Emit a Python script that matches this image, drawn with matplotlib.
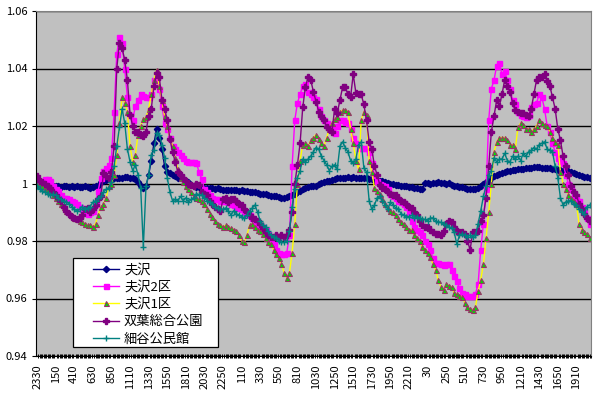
import numpy as np
import matplotlib
matplotlib.use('Agg')
import matplotlib.pyplot as plt
from matplotlib.patches import Rectangle
from matplotlib.ticker import FixedLocator, MultipleLocator

plt.rcParams['font.family'] = ['Noto Sans CJK JP', 'DejaVu Sans']

# 20-minute readings from 23:30, ratio to reference level
fusawa = [1.002, 1.0005, 0.9995, 0.999, 0.9992, 0.9988, 0.999, 0.9992, 0.999, 0.9988,
          0.999, 0.9992, 0.9988, 0.999, 0.9987, 0.999, 0.9988, 0.9987, 0.999, 0.9988,
          0.9986, 0.9988, 0.999, 0.999, 1.0005, 1.001, 1.0013, 1.0015, 1.0017, 1.0018,
          1.0018, 1.002, 1.002, 1.0021, 1.0022, 1.002, 1.002, 1.0015, 1.0005, 0.999,
          0.9985, 0.999, 1.003, 1.008, 1.014, 1.019, 1.016, 1.012, 1.006, 1.004,
          1.0035, 1.003, 1.0025, 1.002, 1.002, 1.0015, 1.001, 1.0005, 0.9995, 0.999,
          0.9988, 0.9987, 0.9988, 0.9986, 0.9985, 0.9986, 0.9984, 0.9982, 0.9983, 0.998,
          0.9978, 0.9979, 0.9977, 0.9978, 0.9976, 0.9977, 0.9975, 0.9976, 0.9974, 0.9973,
          0.9972, 0.997, 0.9969, 0.9967, 0.9965, 0.9963, 0.9962, 0.996, 0.9958, 0.9956,
          0.9955, 0.9953, 0.995, 0.9951, 0.9953, 0.9955, 0.996, 0.9965, 0.997, 0.9975,
          0.998, 0.9985, 0.9988, 0.999, 0.9992, 0.9993, 0.9998, 1.0002, 1.0005, 1.0008,
          1.001, 1.0013, 1.0015, 1.0018, 1.0019, 1.002, 1.002, 1.0021, 1.002, 1.0021,
          1.002, 1.002, 1.0019, 1.0018, 1.0018, 1.0016, 1.0015, 1.0013, 1.0012, 1.001,
          1.0008, 1.0005, 1.0003, 1.0, 0.9998, 0.9996, 0.9994, 0.9993, 0.9992, 0.999,
          0.9989, 0.9988, 0.9986, 0.9985, 0.9982, 0.998, 1.0002, 1.0003, 1.0, 1.0003,
          1.0002, 1.0004, 1.0001, 1.0003, 1.0, 1.0002, 0.9995, 0.9993, 0.999, 0.9988,
          0.9987, 0.9985, 0.9982, 0.998, 0.998, 0.998, 0.9986, 0.9992, 1.0, 1.0005,
          1.001, 1.0018, 1.0025, 1.0029, 1.0032, 1.0036, 1.004, 1.0042, 1.0044, 1.0046,
          1.0047, 1.0049, 1.005, 1.0052, 1.0053, 1.0054, 1.0055, 1.0056, 1.0056, 1.0056,
          1.0055, 1.0055, 1.0055, 1.0053, 1.0052, 1.005, 1.0048, 1.0046, 1.0045, 1.0043,
          1.0042, 1.004, 1.0037, 1.0033, 1.003, 1.0027, 1.0024, 1.0021, 1.0018]

fusawa2 = [1.0005, 1.0005, 1.001, 1.0015, 1.0015, 1.001, 0.999, 0.998, 0.9975, 0.996,
           0.995, 0.995, 0.9945, 0.994, 0.9935, 0.993, 0.992, 0.991, 0.99, 0.9895,
           0.99, 0.9905, 0.993, 0.9975, 1.002, 1.0045, 1.0055, 1.0065, 1.009, 1.025,
           1.045, 1.051, 1.049, 1.04, 1.03, 1.024, 1.022, 1.027, 1.029, 1.031,
           1.0305, 1.03, 1.03, 1.031, 1.036, 1.037, 1.033, 1.027, 1.021, 1.019,
           1.016, 1.013, 1.012, 1.011, 1.01, 1.009, 1.008, 1.0075, 1.0075, 1.0075,
           1.007, 1.004, 1.0015, 0.998, 0.997, 0.996, 0.995, 0.9945, 0.9945, 0.994,
           0.994, 0.994, 0.9935, 0.993, 0.9925, 0.992, 0.9915, 0.991, 0.99, 0.9895,
           0.989, 0.988, 0.987, 0.986, 0.9855, 0.985, 0.984, 0.9825, 0.981, 0.979,
           0.977, 0.976, 0.9755, 0.9755, 0.976, 0.982, 1.006, 1.022, 1.028, 1.031,
           1.034, 1.0345, 1.032, 1.031, 1.03, 1.0295, 1.026, 1.0235, 1.022, 1.021,
           1.02, 1.019, 1.0175, 1.02, 1.022, 1.022, 1.0215, 1.021, 1.019, 1.016,
           1.014, 1.0125, 1.0125, 1.0125, 1.0125, 1.011, 1.007, 1.003, 1.001, 1.0,
           0.9995, 0.999, 0.998, 0.9965, 0.9955, 0.995, 0.994, 0.9935, 0.993, 0.992,
           0.99, 0.987, 0.985, 0.984, 0.983, 0.982, 0.98, 0.979, 0.977, 0.974,
           0.9725, 0.9725, 0.972, 0.9715, 0.972, 0.972, 0.97, 0.968, 0.966, 0.9635,
           0.962, 0.9615, 0.961, 0.961, 0.961, 0.9615, 0.965, 0.977, 0.986, 0.998,
           1.022, 1.033, 1.036, 1.041, 1.042, 1.038, 1.039, 1.036, 1.033, 1.029,
           1.0275, 1.025, 1.024, 1.0235, 1.023, 1.024, 1.0265, 1.0275, 1.028, 1.031,
           1.03, 1.026, 1.02, 1.018, 1.014, 1.011, 1.009, 1.008, 1.007, 1.003,
           1.0, 0.998, 0.996, 0.995, 0.994, 0.992, 0.99, 0.988, 0.986]

fusawa1 = [1.0, 0.9995, 0.999, 0.998, 0.998, 0.997, 0.996, 0.995, 0.994, 0.993,
           0.992, 0.9905, 0.99, 0.989, 0.988, 0.9875, 0.987, 0.9865, 0.986, 0.9855,
           0.9855, 0.985, 0.986, 0.989, 0.992, 0.993, 0.995, 0.999, 1.0, 1.003,
           1.01, 1.021, 1.03, 1.028, 1.025, 1.013, 1.0075, 1.01, 1.017, 1.02,
           1.0225, 1.023, 1.026, 1.031, 1.036, 1.0395, 1.034, 1.029, 1.0235, 1.02,
           1.016, 1.013, 1.009, 1.005, 1.002, 1.0005, 0.999, 0.998, 0.997, 0.9955,
           0.995, 0.9945, 0.994, 0.993, 0.991, 0.9895, 0.9885, 0.987, 0.986, 0.9855,
           0.985, 0.9855, 0.985, 0.9845, 0.984, 0.9835, 0.982, 0.98, 0.9795, 0.982,
           0.9855, 0.986, 0.985, 0.984, 0.9835, 0.9825, 0.981, 0.9795, 0.979, 0.977,
           0.9755, 0.974, 0.972, 0.969, 0.967, 0.969, 0.976, 0.986, 1.0, 1.008,
           1.0135, 1.014, 1.013, 1.015, 1.016, 1.017, 1.0155, 1.014, 1.013, 1.016,
           1.019, 1.021, 1.0225, 1.023, 1.025, 1.0255, 1.0255, 1.025, 1.019, 1.014,
           1.008, 1.005, 1.022, 1.025, 1.024, 1.008, 1.004, 0.9985, 0.9975, 0.9965,
           0.9945, 0.993, 0.9915, 0.9905, 0.99, 0.989, 0.9875, 0.9865, 0.986, 0.985,
           0.984, 0.984, 0.982, 0.981, 0.98, 0.978, 0.977, 0.976, 0.9745, 0.972,
           0.97, 0.9665, 0.964, 0.963, 0.965, 0.9645, 0.964, 0.962, 0.9615, 0.961,
           0.9605, 0.9585, 0.957, 0.9565, 0.956, 0.957, 0.9625, 0.9665, 0.972, 0.981,
           0.99, 1.0, 1.011, 1.0145, 1.016, 1.016, 1.016, 1.015, 1.0135, 1.0135,
           1.012, 1.0195, 1.021, 1.0205, 1.019, 1.019, 1.018, 1.019, 1.02, 1.022,
           1.021, 1.0205, 1.02, 1.018, 1.016, 1.0145, 1.0135, 1.004, 1.0, 0.998,
           0.996, 0.995, 0.994, 0.993, 0.986, 0.984, 0.983, 0.9825, 0.981]

futaba = [1.0025, 1.001, 1.0005, 1.0, 0.999, 0.9985, 0.997, 0.996, 0.995, 0.994,
          0.992, 0.9905, 0.9895, 0.9885, 0.988, 0.9878, 0.988, 0.989, 0.991, 0.9915,
          0.99, 0.991, 0.9925, 0.9945, 0.9955, 1.0035, 1.0025, 1.002, 1.004, 1.013,
          1.04, 1.049, 1.047, 1.043, 1.036, 1.024, 1.02, 1.018, 1.018, 1.017,
          1.0165, 1.018, 1.0235, 1.026, 1.034, 1.0385, 1.037, 1.029, 1.026, 1.022,
          1.0155, 1.011, 1.0075, 1.004, 1.003, 1.002, 1.001, 1.0, 0.9995, 0.999,
          1.0, 0.9995, 0.997, 0.9965, 0.996, 0.994, 0.993, 0.992, 0.991, 0.9905,
          0.9945, 0.995, 0.9935, 0.9945, 0.9945, 0.994, 0.993, 0.9925, 0.991, 0.99,
          0.989, 0.988, 0.9875, 0.987, 0.986, 0.9845, 0.983, 0.982, 0.9815, 0.9815,
          0.982, 0.9815, 0.982, 0.9815, 0.982, 0.984, 0.99, 0.9998, 1.0065, 1.014,
          1.0265, 1.0335, 1.037, 1.036, 1.032, 1.0285, 1.025, 1.0235, 1.022, 1.0195,
          1.019, 1.018, 1.026, 1.0245, 1.029, 1.0335, 1.0335, 1.031, 1.03, 1.038,
          1.0315, 1.031, 1.031, 1.0275, 1.022, 1.0145, 1.012, 1.006, 1.003, 0.9995,
          0.9985, 0.998, 0.997, 0.9965, 0.996, 0.996, 0.995, 0.994, 0.9935, 0.993,
          0.992, 0.9915, 0.99, 0.989, 0.987, 0.9855, 0.985, 0.985, 0.984, 0.983,
          0.9825, 0.9825, 0.982, 0.9835, 0.986, 0.987, 0.9865, 0.985, 0.9835, 0.983,
          0.983, 0.9825, 0.98, 0.977, 0.983, 0.983, 0.9835, 0.987, 0.989, 0.995,
          1.006, 1.018, 1.0235, 1.029, 1.027, 1.031, 1.036, 1.034, 1.032, 1.028,
          1.0255, 1.025, 1.0245, 1.0245, 1.024, 1.0235, 1.026, 1.031, 1.036, 1.037,
          1.037, 1.038, 1.0355, 1.034, 1.03, 1.026, 1.019, 1.015, 1.0095, 1.006,
          1.003, 0.999, 0.997, 0.996, 0.993, 0.991, 0.9895, 0.988, 0.987]

hosoya = [0.999, 0.998, 0.9975, 0.997, 0.9965, 0.996, 0.9963, 0.996, 0.995, 0.9945,
          0.994, 0.9935, 0.993, 0.992, 0.991, 0.9905, 0.991, 0.992, 0.991, 0.9915,
          0.992, 0.9935, 0.994, 0.995, 0.9955, 0.997, 0.998, 0.9985, 1.0005, 1.006,
          1.013, 1.0195, 1.026, 1.021, 1.012, 1.0075, 1.0045, 1.0065, 1.003, 0.9985,
          0.978, 0.999, 1.003, 1.01, 1.0115, 1.0175, 1.017, 1.0135, 1.009, 1.002,
          0.997, 0.994, 0.9945, 0.994, 0.9955, 0.994, 0.995, 0.9935, 0.9945, 0.995,
          0.9965, 0.996, 0.996, 0.995, 0.994, 0.9935, 0.993, 0.992, 0.9915, 0.991,
          0.991, 0.9915, 0.9905, 0.989, 0.9905, 0.9895, 0.989, 0.9885, 0.988, 0.989,
          0.9905, 0.9915, 0.9925, 0.99, 0.987, 0.9855, 0.985, 0.9835, 0.982, 0.9815,
          0.981, 0.98, 0.9795, 0.9795, 0.98, 0.9835, 0.992, 0.998, 1.002, 1.0045,
          1.0085, 1.0075, 1.0085, 1.0095, 1.011, 1.0125, 1.012, 1.0095, 1.008, 1.0065,
          1.0045, 1.006, 1.0065, 1.005, 1.013, 1.0145, 1.0125, 1.011, 1.008, 1.007,
          1.0085, 1.0135, 1.0145, 1.0055, 1.004, 0.994, 0.991, 0.9925, 0.995, 0.9955,
          0.994, 0.9925, 0.991, 0.9935, 0.9925, 0.9915, 0.991, 0.9895, 0.989, 0.9885,
          0.9885, 0.989, 0.988, 0.9885, 0.988, 0.9875, 0.9875, 0.987, 0.988, 0.988,
          0.987, 0.9865, 0.9865, 0.986, 0.9855, 0.985, 0.9845, 0.983, 0.979, 0.982,
          0.9825, 0.982, 0.9815, 0.982, 0.9815, 0.982, 0.986, 0.9905, 0.9955, 0.999,
          1.003, 1.0045, 1.009, 1.0075, 1.0085, 1.0085, 1.0105, 1.008, 1.0075, 1.0095,
          1.0085, 1.0095, 1.008, 1.0105, 1.0095, 1.011, 1.0115, 1.0125, 1.012, 1.0135,
          1.014, 1.0145, 1.012, 1.0115, 1.011, 1.006, 1.002, 0.995, 0.9925, 0.9935,
          0.994, 0.994, 0.993, 0.9925, 0.991, 0.99, 0.9895, 0.992, 0.9925]

tick_labels = ['2330', '150', '410', '630', '850', '1110', '1330', '1550', '1810', '2030',
               '2250', '110', '330', '550', '810', '1030', '1250', '1510', '1730', '1950',
               '2210', '30', '250', '510', '730', '950', '1210', '1430', '1650', '1910']

x = np.arange(len(fusawa))

fig = plt.figure(figsize=(6.0, 3.97), dpi=100)
ax = fig.add_axes([36 / 600, 1 - 356 / 397, 555 / 600, 345 / 397])
ax.set_facecolor('#c0c0c0')

ax.plot(x, fusawa, color='#000080', lw=1, marker='D', ms=3.2, mec='#000080', mfc='#000080', label='夫沢')
ax.plot(x, fusawa2, color='#ff00ff', lw=1, marker='s', ms=3.6, mec='#ff00ff', mfc='#ff00ff', label='夫沢2区')
ax.plot(x, fusawa1, color='#ffff00', lw=1, marker='^', ms=3.6, mec='#993366', mfc='#00e000', mew=0.8, label='夫沢1区')
ax.plot(x, futaba, color='#800080', lw=1, marker='P', ms=4.2, mec='#800080', mfc='#800080', label='双葉総合公園')
ax.plot(x, hosoya, color='#008080', lw=1, marker='+', ms=5, mew=1, label='細谷公民館')

ax.set_ylim(0.94, 1.06)
ax.set_xlim(-0.4, len(x) - 0.5)
ax.set_yticks([0.94, 0.96, 0.98, 1.0, 1.02, 1.04, 1.06])
ax.set_yticklabels(['0.94', '0.96', '0.98', '1', '1.02', '1.04', '1.06'])
ax.yaxis.grid(True, color='black', lw=1)
ax.set_axisbelow(True)

ax.xaxis.set_major_locator(FixedLocator(np.arange(0, len(x), 7)))
ax.set_xticklabels(tick_labels, rotation=90)
ax.xaxis.set_minor_locator(MultipleLocator(0.5))
ax.tick_params(axis='x', which='major', length=0, labelsize=8, pad=6)
ax.tick_params(axis='x', which='minor', length=2.5, width=0.7, direction='inout', color='black')
ax.tick_params(axis='y', length=3, labelsize=8, pad=3)

for side in ['top', 'right']:
    ax.spines[side].set_color('#808080')
ax.spines['left'].set_color('black')
ax.spines['bottom'].set_color('black')

# legend box drawn separately to get Excel-like wide padding
box = Rectangle((0.0661, 0.0261), 0.2618, 0.258, transform=ax.transAxes,
                facecolor='white', edgecolor='black', lw=0.9, zorder=4)
ax.add_patch(box)
leg = ax.legend(loc='upper left', bbox_to_anchor=(0.1027, 0.268), borderaxespad=0,
                borderpad=0, frameon=False, fontsize=9.5,
                handlelength=2.0, labelspacing=0.32, handletextpad=0.35)
leg.set_zorder(5)

fig.savefig('out.png', dpi=100)
